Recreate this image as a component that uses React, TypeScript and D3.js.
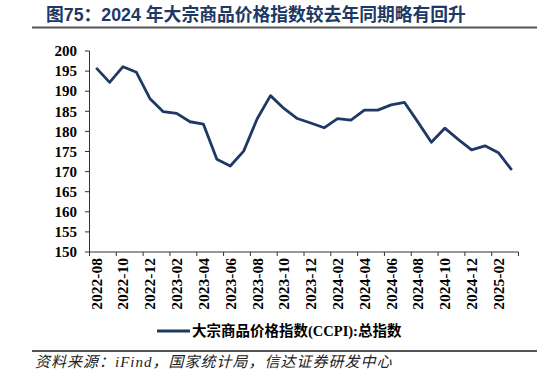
import React from "react";
import * as d3 from "d3";

const months = [
  "2022-08","2022-09","2022-10","2022-11","2022-12","2023-01","2023-02","2023-03",
  "2023-04","2023-05","2023-06","2023-07","2023-08","2023-09","2023-10","2023-11",
  "2023-12","2024-01","2024-02","2024-03","2024-04","2024-05","2024-06","2024-07",
  "2024-08","2024-09","2024-10","2024-11","2024-12","2025-01","2025-02","2025-03",
];
const ccpi = [
  195.8, 192.2, 196.1, 194.7, 188.2, 184.9, 184.5, 182.4,
  181.8, 173.1, 171.4, 175.1, 183.1, 188.9, 185.7, 183.2,
  182.1, 180.9, 183.2, 182.8, 185.3, 185.3, 186.6, 187.2,
  182.3, 177.3, 180.8, 178.0, 175.4, 176.4, 174.7, 170.4,
];
const yTicks = [150, 155, 160, 165, 170, 175, 180, 185, 190, 195, 200];

const title = "图75：2024 年大宗商品价格指数较去年同期略有回升";
const source = "资料来源：iFind，国家统计局，信达证券研发中心";

const W = 543;
const H = 376;
const NAVY = "#203864";
const SERIF = "'Liberation Serif', 'Times New Roman', 'Noto Sans CJK SC', serif";
const CJK = "'Noto Sans CJK SC', 'Liberation Serif', sans-serif";

export default function App() {
  const x = d3.scaleBand<string>().domain(months).range([89.5, 518.5]).padding(0);
  const y = d3.scaleLinear().domain([150, 200]).range([252, 51]);
  const cx = (m: string) => (x(m) as number) + x.bandwidth() / 2;
  const line = d3
    .line<number>()
    .x((_, i) => cx(months[i]))
    .y((d) => y(d));

  const xTickPos = months.filter((_, i) => i % 2 === 0).map((m) => x(m) as number);
  xTickPos.push(x.range()[1]);
  const labelMonths = months.filter((_, i) => i % 2 === 0);

  return (
    <svg
      width={W}
      height={H}
      viewBox={`0 0 ${W} ${H}`}
      style={{ position: "absolute", left: 0, top: 0, background: "#fff" }}
    >
      <text
        x={46}
        y={21}
        fontFamily="'Liberation Sans', 'Noto Sans CJK SC', sans-serif"
        fontWeight="bold"
        fontSize={17.8}
        fill={NAVY}
      >
        {title}
      </text>
      <line x1={32} x2={537} y1={27.5} y2={27.5} stroke="#555" strokeWidth={2} />

      {/* y axis */}
      <line x1={89.5} x2={89.5} y1={y(200)} y2={y(150)} stroke="#333" strokeWidth={1} />
      {yTicks.map((t) => (
        <g key={t}>
          <line x1={85} x2={89.5} y1={y(t)} y2={y(t)} stroke="#333" strokeWidth={1} />
          <text
            x={77}
            y={y(t)}
            dy="0.35em"
            textAnchor="end"
            fontFamily={SERIF}
            fontWeight="bold"
            fontSize={15}
            fill="#000"
          >
            {t}
          </text>
        </g>
      ))}

      {/* x axis */}
      <line x1={89.5} x2={518.5} y1={y(150)} y2={y(150)} stroke="#333" strokeWidth={1} />
      {xTickPos.map((p, i) => (
        <line key={i} x1={p} x2={p} y1={y(150)} y2={y(150) + 4} stroke="#333" strokeWidth={1} />
      ))}
      {labelMonths.map((m) => (
        <text
          key={m}
          transform={`translate(${cx(m)},${258}) rotate(-90)`}
          dy="0.35em"
          textAnchor="end"
          fontFamily={SERIF}
          fontWeight="bold"
          fontSize={15.5}
          fill="#000"
        >
          {m}
        </text>
      ))}

      {/* series */}
      <path d={line(ccpi) || ""} fill="none" stroke={NAVY} strokeWidth={2.8} strokeLinejoin="round" />

      {/* legend */}
      <line x1={157} x2={190} y1={331} y2={331} stroke={NAVY} strokeWidth={2.8} />
      <text x={192} y={331} dy="0.35em" fontFamily={SERIF} fontWeight="bold" fontSize={14.5} fill="#000">
        <tspan fontFamily={CJK}>大宗商品价格指数</tspan>
        <tspan>(CCPI):</tspan>
        <tspan fontFamily={CJK}>总指数</tspan>
      </text>

      <line x1={32} x2={537} y1={351} y2={351} stroke="#555" strokeWidth={2} />
      <text
        x={35}
        y={362}
        dy="0.35em"
        fontFamily={SERIF}
        fontStyle="italic"
        fontSize={15}
        letterSpacing={1}
        fill="#222"
      >
        {source}
      </text>
    </svg>
  );
}
